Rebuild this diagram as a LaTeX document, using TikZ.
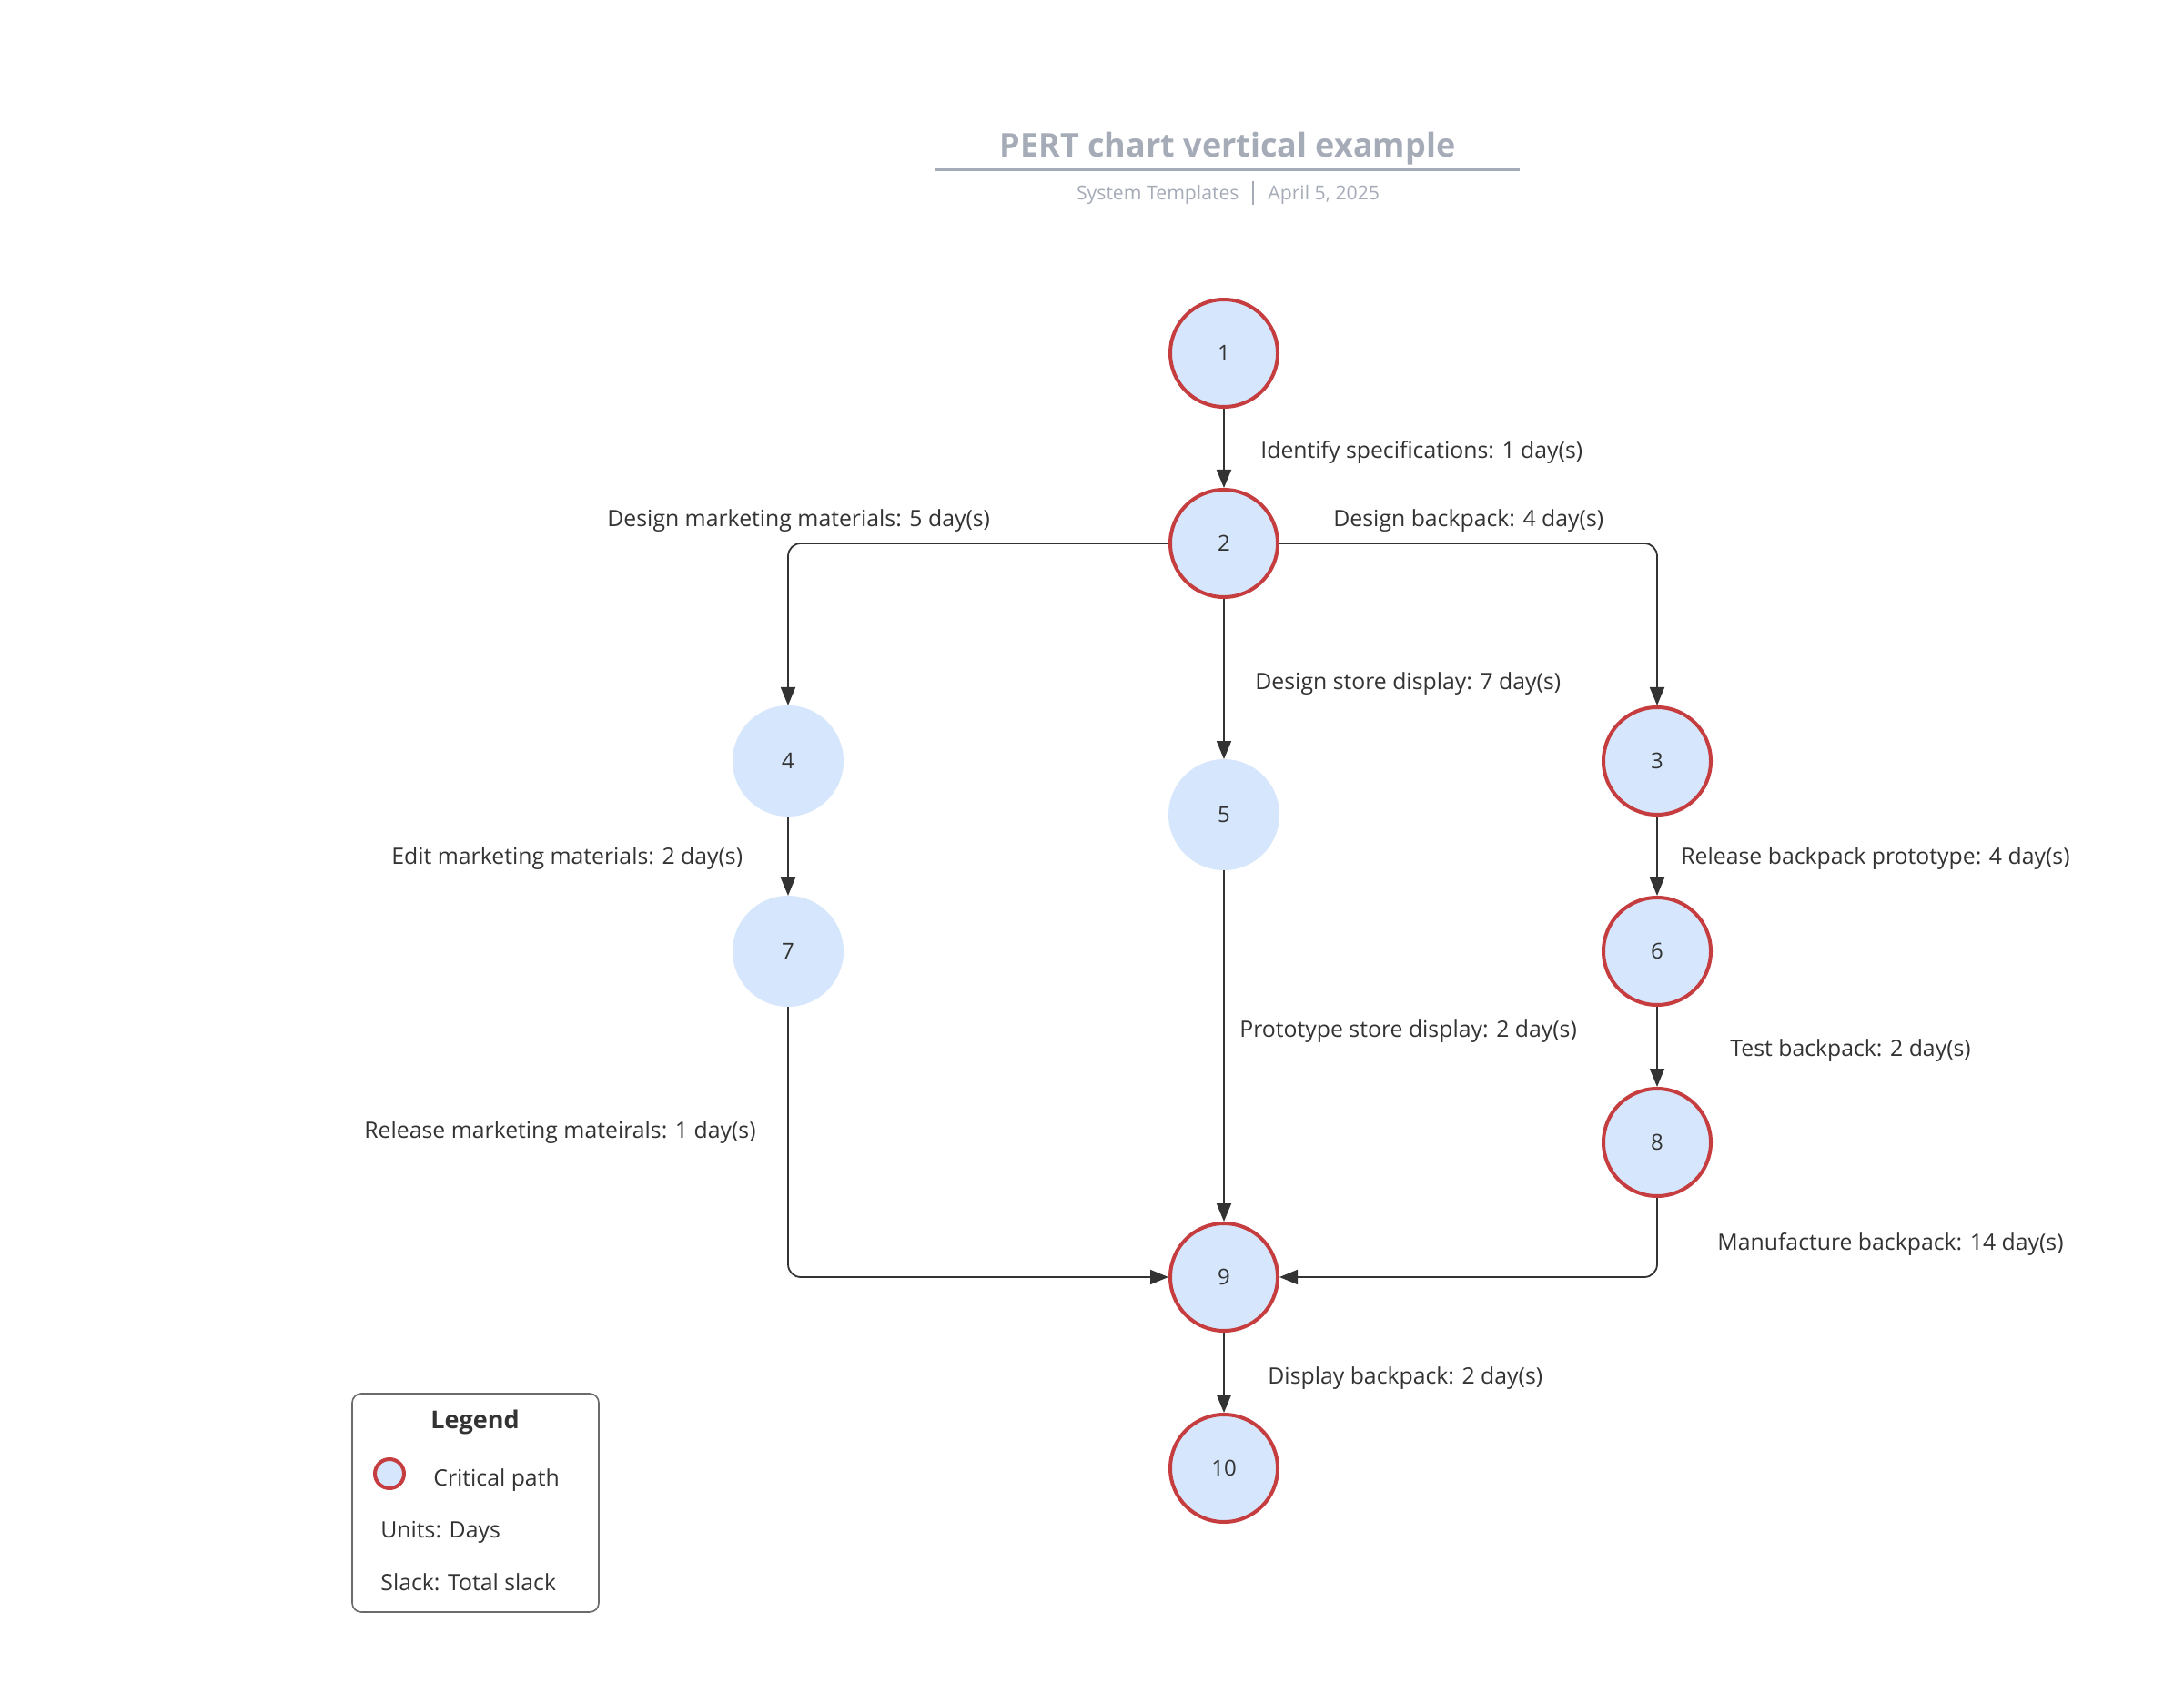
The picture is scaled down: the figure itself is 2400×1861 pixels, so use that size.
\documentclass[tikz,border=0pt]{standalone}
\usepackage{fontspec}
\setmainfont{Open Sans}
\usetikzlibrary{arrows.meta}
\definecolor{nodefill}{HTML}{D6E7FD}
\definecolor{critred}{HTML}{C63D40}
\definecolor{edgec}{HTML}{333333}
\definecolor{titlegray}{HTML}{A5ACB8}
\definecolor{legendgray}{HTML}{6B6B6B}
\begin{document}
\begin{tikzpicture}[x=0.5pt,y=-0.5pt,
  crit/.style={circle,minimum size=59pt,inner sep=0pt,fill=nodefill,draw=critred,line width=2pt,font=\fontsize{12}{14}\selectfont,text=edgec},
  noncrit/.style={circle,minimum size=59pt,inner sep=0pt,fill=nodefill,draw=nodefill,line width=2pt,font=\fontsize{12}{14}\selectfont,text=edgec},
  conn/.style={draw=edgec,line width=0.9pt,-{Triangle[length=10pt,width=8pt]},rounded corners=7pt},
  lbl/.style={anchor=west,font=\fontsize{12.4}{14}\selectfont,text=edgec,inner sep=0pt},
  leg/.style={anchor=west,font=\fontsize{12.4}{14}\selectfont,text=edgec,inner sep=0pt}]
\fill[white] (0,0) rectangle (2400,1861);
\useasboundingbox (0,0) rectangle (2400,1861);

% title
\node[font=\bfseries\fontsize{18}{21}\selectfont,text=titlegray] (title) at (1349,163) {PERT chart vertical example};
\draw[titlegray,line width=1.5pt] (1028,187) -- (1670,187);
\node[anchor=east,font=\fontsize{10.6}{12}\selectfont,text=titlegray,inner sep=0pt] (sub1) at (1362,214) {System Templates};
\draw[titlegray,line width=0.6pt] (1377,199) -- (1377,225);
\node[anchor=west,font=\fontsize{10.6}{12}\selectfont,text=titlegray,inner sep=0pt] (sub2) at (1393,214) {April 5, 2025};

% nodes
\node[crit] (n1) at (1345,388) {1};
\node[crit] (n2) at (1345,597) {2};
\node[noncrit] (n4) at (866,836) {4};
\node[noncrit] (n5) at (1345,895) {5};
\node[crit] (n3) at (1821,836) {3};
\node[noncrit] (n7) at (866,1045) {7};
\node[crit] (n6) at (1821,1045) {6};
\node[crit] (n8) at (1821,1255) {8};
\node[crit] (n9) at (1345,1403) {9};
\node[crit] (n10) at (1345,1613) {10};

% connectors
\draw[conn] (n1) -- (n2);
\draw[conn] (n2.west) -| (n4.north);
\draw[conn] (n2.east) -| (n3.north);
\draw[conn] (n2) -- (n5);
\draw[conn] (n4) -- (n7);
\draw[conn] (n3) -- (n6);
\draw[conn] (n6) -- (n8);
\draw[conn] (n5) -- (n9);
\draw[conn] (n7.south) |- (n9.west);
\draw[conn] (n8.south) |- (n9.east);
\draw[conn] (n9) -- (n10);

% labels
\node[lbl] (l12) at (1385,497) {Identify specifications: 1 day(s)};
\node[lbl] (l24) at (667,572) {Design marketing materials: 5 day(s)};
\node[lbl] (l23) at (1465,572) {Design backpack: 4 day(s)};
\node[lbl] (l25) at (1379,751) {Design store display: 7 day(s)};
\node[lbl] (l47) at (430,943) {Edit marketing materials: 2 day(s)};
\node[lbl] (l36) at (1847,943) {Release backpack prototype: 4 day(s)};
\node[lbl] (l59) at (1362,1133) {Prototype store display: 2 day(s)};
\node[lbl] (l68) at (1901,1154) {Test backpack: 2 day(s)};
\node[lbl] (l79) at (400,1244) {Release marketing mateirals: 1 day(s)};
\node[lbl] (l89) at (1887,1367) {Manufacture backpack: 14 day(s)};
\node[lbl] (l910) at (1393,1514) {Display backpack: 2 day(s)};

% legend
\draw[legendgray,line width=0.8pt,rounded corners=5pt] (387,1531) rectangle (658,1771);
\node[font=\bfseries\fontsize{13.5}{15}\selectfont,text=edgec] (legt) at (522,1562) {Legend};
\node[circle,minimum size=16pt,inner sep=0pt,fill=nodefill,draw=critred,line width=2pt] (legc) at (428,1619) {};
\node[leg] (legcp) at (476,1626) {Critical path};
\node[leg] (legu) at (418,1683) {Units: Days};
\node[leg] (legs) at (418,1738) {Slack: Total slack};
\end{tikzpicture}
\end{document}
